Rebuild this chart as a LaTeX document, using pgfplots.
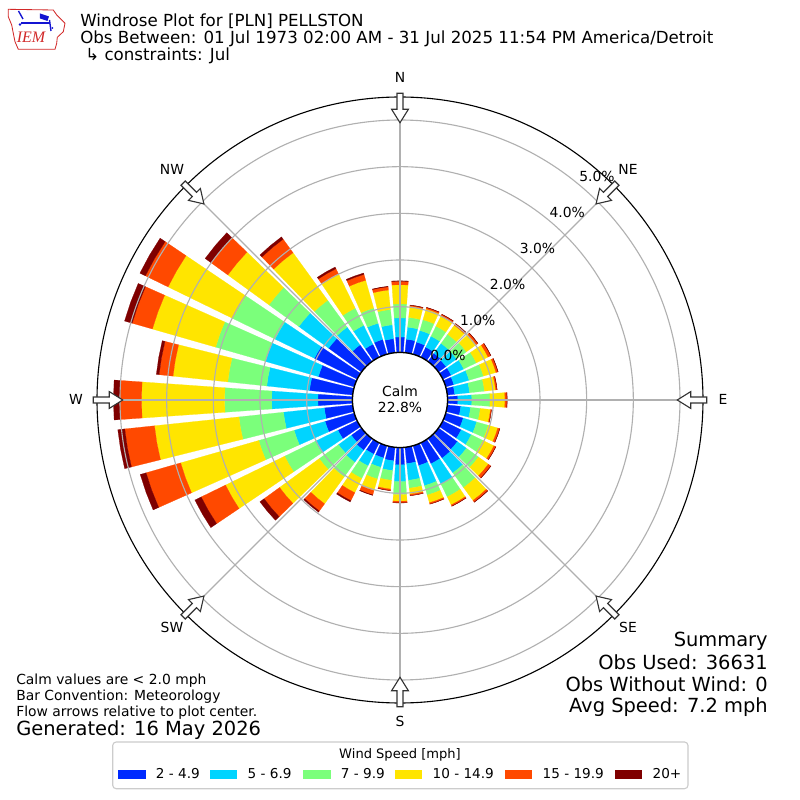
\documentclass[border=0pt]{standalone}
\usepackage{pgfplots}
\usepackage{pgfplotstable}
\pgfplotsset{compat=1.18}
\usepackage{fontspec}
\setmainfont{DejaVu Sans}
\newfontfamily\logofont{Liberation Serif}
\definecolor{ws1}{RGB}{0,42,255}
\definecolor{ws2}{RGB}{0,212,255}
\definecolor{ws3}{RGB}{123,255,123}
\definecolor{ws4}{RGB}{255,229,0}
\definecolor{ws5}{RGB}{255,73,0}
\definecolor{ws6}{RGB}{127,0,0}
\definecolor{gridgray}{HTML}{B0B0B0}
\definecolor{legedge}{HTML}{CCCCCC}
\definecolor{iemred}{RGB}{210,40,40}
\definecolor{iemblue}{RGB}{20,20,210}

% percent of observations per direction and speed bin
\pgfplotstableread{
dir b1 b2 b3 b4 b5 b6
0 0.35 0.41 0.30 0.41 0.075 0.01
10 0.31 0.26 0.21 0.24 0.02 0.006
20 0.29 0.26 0.24 0.24 0.03 0.006
30 0.26 0.26 0.24 0.24 0.04 0.006
40 0.24 0.26 0.24 0.24 0.04 0.006
50 0.22 0.28 0.26 0.26 0.04 0.006
60 0.22 0.30 0.30 0.28 0.064 0.006
70 0.20 0.34 0.32 0.28 0.043 0.006
80 0.18 0.32 0.32 0.24 0.03 0.004
90 0.24 0.30 0.39 0.32 0.043 0.006
100 0.31 0.21 0.21 0.22 0.02 0.002
110 0.41 0.30 0.26 0.21 0.043 0.004
120 0.46 0.24 0.28 0.26 0.043 0.004
130 0.52 0.24 0.32 0.26 0.064 0.006
140 0.54 0.39 0.39 0.34 0.043 0.006
150 0.52 0.49 0.30 0.19 0.03 0.004
160 0.46 0.45 0.21 0.17 0.03 0.002
170 0.37 0.36 0.17 0.13 0.03 0.002
180 0.39 0.36 0.28 0.14 0.034 0.004
190 0.31 0.21 0.21 0.19 0.03 0.004
200 0.29 0.21 0.26 0.26 0.096 0.01
210 0.29 0.28 0.30 0.34 0.19 0.03
220 0.33 0.32 0.39 0.71 0.19 0.03
230 0.29 0.34 0.51 1.05 0.41 0.11
240 0.48 0.54 0.73 1.41 0.58 0.15
250 0.67 0.69 0.79 1.74 0.77 0.13
260 0.63 0.88 0.96 1.82 0.64 0.15
270 0.76 0.99 1.01 1.78 0.47 0.13
280 0.95 0.92 0.84 1.18 0.30 0.06
290 0.82 1.18 1.11 1.41 0.45 0.17
300 1.04 0.94 1.01 1.54 0.54 0.13
310 0.89 0.79 0.79 1.09 0.45 0.15
320 0.46 0.47 0.71 1.26 0.36 0.06
330 0.33 0.45 0.41 0.81 0.13 0.04
340 0.35 0.36 0.34 0.62 0.13 0.03
350 0.32 0.30 0.33 0.42 0.07 0.01
}\windtable

% radius in pixels: 46.67 px per percent, 0 % at 46.67 px
\newcommand\rosept[3]{% #1 macro, #2 radius, #3 angle
  \pgfmathsetmacro\tx{400+(#2)*sin(#3)}%
  \pgfmathsetmacro\ty{400-(#2)*cos(#3)}%
  \xdef#1{(\tx,\ty)}}

\begin{document}
\begin{tikzpicture}
\begin{scope}[x=0.72bp,y=-0.72bp]
\fill[white] (0,0) rectangle (800,800);
\end{scope}
\begin{axis}[at={(0,0)},anchor=north west,width=576bp,height=576bp,
  scale only axis,xmin=0,xmax=800,ymin=0,ymax=800,y dir=reverse,
  hide axis,clip=false]
\foreach \i in {0,...,35}{%
  \pgfplotstablegetelem{\i}{dir}\of\windtable
  \let\dir\pgfplotsretval
  \gdef\cum{0}%
  \foreach \j in {1,...,6}{%
    \pgfplotstablegetelem{\i}{b\j}\of\windtable
    \let\val\pgfplotsretval
    \pgfmathsetmacro\rin{46.67*(1+\cum)}%
    \pgfmathsetmacro\newcum{\cum+\val}%
    \pgfmathsetmacro\rout{46.67*(1+\newcum)}%
    \xdef\cum{\newcum}%
    \rosept\pA{\rin}{\dir-4}%
    \rosept\pB{\rin}{\dir}%
    \rosept\pC{\rin}{\dir+4}%
    \rosept\pD{\rout}{\dir+4}%
    \rosept\pE{\rout}{\dir}%
    \rosept\pF{\rout}{\dir-4}%
    \edef\temp{\noexpand\addplot[fill=ws\j,draw=ws\j,line width=0.15pt,forget plot] coordinates {\pA \pB \pC \pD \pE \pF} -- cycle;}%
    \temp
  }%
}
\end{axis}

\begin{scope}[x=0.72bp,y=-0.72bp]
% grid
\foreach \r in {93.33,140,186.67,233.33,280}{
  \draw[gridgray,line width=0.8bp] (400,400) circle[radius=\r*0.72bp];
}
\foreach \a in {0,45,...,315}{
  \draw[gridgray,line width=0.8bp] (400,400) -- ({400+303*sin(\a)},{400-303*cos(\a)});
}
\draw[black,line width=0.8bp] (400,400) circle[radius=303*0.72bp];
% calm circle
\draw[black,fill=white,line width=1bp] (400,400) circle[radius=47.6*0.72bp];
\node[anchor=base,inner sep=0,font=\fontsize{10bp}{12bp}\selectfont] at (400,397) {Calm};
\node[anchor=base,inner sep=0,font=\fontsize{10bp}{12bp}\selectfont] at (400,413) {22.8\%};
% flow arrows
\foreach \a in {0,45,...,315}{
  \draw[black!80,fill=white,line width=0.8bp,line join=miter]
    ({400+306.7*sin(\a)-3*cos(\a)},{400-306.7*cos(\a)-3*sin(\a)}) --
    ({400+290.7*sin(\a)-3*cos(\a)},{400-290.7*cos(\a)-3*sin(\a)}) --
    ({400+290.7*sin(\a)-8.4*cos(\a)},{400-290.7*cos(\a)-8.4*sin(\a)}) --
    ({400+277.3*sin(\a)},{400-277.3*cos(\a)}) --
    ({400+290.7*sin(\a)+8.4*cos(\a)},{400-290.7*cos(\a)+8.4*sin(\a)}) --
    ({400+290.7*sin(\a)+3*cos(\a)},{400-290.7*cos(\a)+3*sin(\a)}) --
    ({400+306.7*sin(\a)+3*cos(\a)},{400-306.7*cos(\a)+3*sin(\a)}) -- cycle;
}
% direction labels
\begin{scope}[every node/.style={anchor=base,inner sep=0,font=\fontsize{10bp}{12bp}\selectfont}]
\node at (400,82) {N};
\node at (628,175) {NE};
\node at (723,405) {E};
\node at (628,633) {SE};
\node at (400,727) {S};
\node at (172,633) {SW};
\node at (76,405) {W};
\node at (172,175) {NW};
% ring labels
\node at (448,361) {0.0\%};
\node at (477.8,325.2) {1.0\%};
\node at (507.6,289.4) {2.0\%};
\node at (537.4,253.6) {3.0\%};
\node at (567.2,217.8) {4.0\%};
\node at (597,182) {5.0\%};
\end{scope}
% title
\begin{scope}[every node/.style={anchor=base west,inner sep=0,font=\fontsize{12bp}{14bp}\selectfont}]
\node at (80,26) {Windrose Plot for [PLN] PELLSTON};
\node at (80,43.3) {Obs Between: 01 Jul 1973 02:00 AM - 31 Jul 2025 11:54 PM America/Detroit};
\node at (85,60) {↳ constraints: Jul};
\end{scope}
% logo
\draw[iemred,line width=0.6bp] (8.3,9.3) -- (53.3,10) -- (56.7,15) -- (65,23.3) -- (63.3,31.7) -- (57.3,37.3) -- (56.7,43.3) -- (55,49.3) -- (18.3,49.3) -- (15,41.7) -- (13.3,33.3) -- (11.7,25) -- (8.3,16.7) -- cycle;
\draw[iemblue,line width=1.2bp] (21,23.3) -- (50,23.3);
\draw[iemblue,line width=1bp] (18.5,11) -- (23,19);
\fill[iemblue] (40,13.5) -- (49,16.5) -- (47.5,21) -- (40,18.5) -- cycle;
\draw[iemblue,line width=1bp] (49.5,20) -- (51,31);
\fill[iemblue] (20,24.5) circle[radius=1.3*0.72bp];
\fill[iemblue] (52.5,28) circle[radius=1*0.72bp];
\node[anchor=base west,inner sep=0,text=iemred,font=\logofont\itshape\fontsize{11.5bp}{12bp}\selectfont] at (16.5,42.7) {IEM};
% bottom left notes
\begin{scope}[every node/.style={anchor=base west,inner sep=0,font=\fontsize{10bp}{12bp}\selectfont}]
\node at (16,685) {Calm values are < 2.0 mph};
\node at (16,701) {Bar Convention: Meteorology};
\node at (16,717) {Flow arrows relative to plot center.};
\end{scope}
\node[anchor=base west,inner sep=0,font=\fontsize{14bp}{16bp}\selectfont] at (16,736) {Generated: 16 May 2026};
% summary
\begin{scope}[every node/.style={anchor=base east,inner sep=0,font=\fontsize{14bp}{16bp}\selectfont}]
\node at (768,647) {Summary};
\node at (768,670) {Obs Used: 36631};
\node at (768,692) {Obs Without Wind: 0};
\node at (768,713) {Avg Speed: 7.2 mph};
\end{scope}
% legend
\draw[legedge,fill=white,line width=0.8bp,rounded corners=2.5bp] (112.7,742) rectangle (688,788.7);
\node[anchor=base,inner sep=0,font=\fontsize{9.4bp}{11bp}\selectfont] at (400,758.7) {Wind Speed [mph]};
\begin{scope}[every node/.style={anchor=base west,inner sep=0,font=\fontsize{9.8bp}{11bp}\selectfont}]
\fill[ws1] (118.3,770) rectangle (145.7,778.7); \node at (155.7,778.7) {2 - 4.9};
\fill[ws2] (210,770) rectangle (237.4,778.7); \node at (247.4,778.7) {5 - 6.9};
\fill[ws3] (303.3,770) rectangle (330.7,778.7); \node at (340.7,778.7) {7 - 9.9};
\fill[ws4] (395,770) rectangle (422.4,778.7); \node at (432.4,778.7) {10 - 14.9};
\fill[ws5] (505,770) rectangle (532.4,778.7); \node at (542.4,778.7) {15 - 19.9};
\fill[ws6] (615,770) rectangle (642.4,778.7); \node at (652.4,778.7) {20+};
\end{scope}
\end{scope}
\pgfresetboundingbox
\path (0,0) rectangle (576bp,-576bp);
\end{tikzpicture}
\end{document}
